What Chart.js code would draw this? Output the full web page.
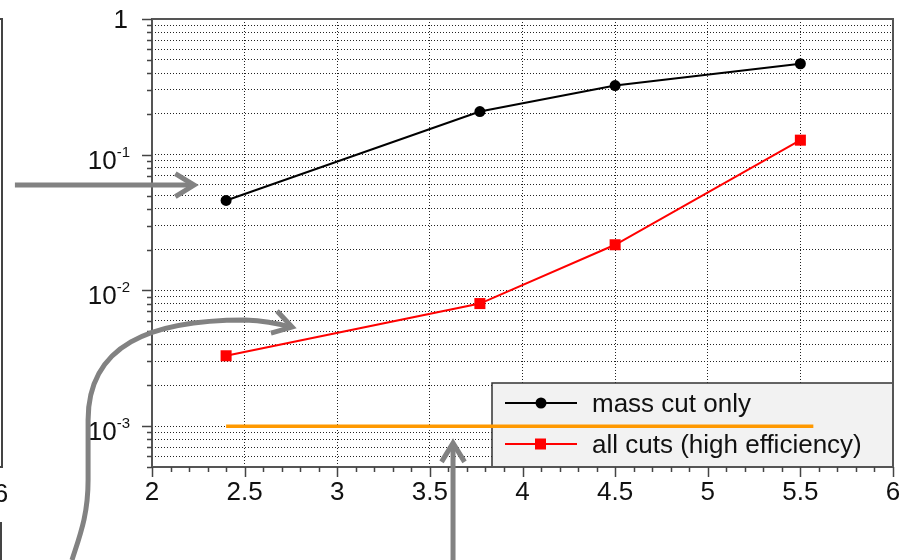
<!DOCTYPE html>
<html>
<head>
<meta charset="utf-8">
<script src="https://cdn.jsdelivr.net/npm/chart.js@4.4.0/dist/chart.umd.min.js"></script>
<style>
html, body { margin: 0; padding: 0; background: #fff; }
</style>
</head>
<body>
<canvas id="myChart" width="915" height="560"></canvas>
<script>
// values
var massX = [2.4, 3.77, 4.5, 5.5];
var massY = [0.046, 0.208, 0.323, 0.468];
var cutsX = [2.4, 3.77, 4.5, 5.5];
var cutsY = [0.0033, 0.0080, 0.0217, 0.128];
var limitX = [2.4, 5.57];
var limitY = [0.001, 0.001];

var seriesNames = ["mass cut only", "all cuts (high efficiency)"];

var xTickLabels = ["2", "2.5", "3", "3.5", "4", "4.5", "5", "5.5", "6"];
var yTickValues = [0.001, 0.01, 0.1, 1];
var yTickBase = ["10", "10", "10", "1"];
var yTickExp = ["-3", "-2", "-1", ""];

var FONT = "'Liberation Sans', Arial, Helvetica, sans-serif";

function toPoints(xs, ys) {
	return xs.map(function (x, i) { return { x: x, y: ys[i] }; });
}

// all grid lines of the log axis: 1..9 in each decade
function logGridValues(min, max) {
	var out = [];
	for (var e = -4; e <= 0; e++) {
		for (var s = 1; s <= 9; s++) {
			var v = parseFloat((s * Math.pow(10, e)).toPrecision(6));
			if (v >= min && v <= max) out.push(v);
		}
	}
	return out;
}

var decorPlugin = {
	id: "decor",
	beforeDatasetsDraw: function (chart) {
		// legend box (the orange line goes over it)
		var ctx = chart.ctx;
		var a = chart.chartArea;
		var lx = 492, ly = 383;
		ctx.save();
		ctx.fillStyle = "#f2f2f2";
		ctx.fillRect(lx, ly, a.right - lx, a.bottom - ly);
		ctx.strokeStyle = "#333";
		ctx.lineWidth = 1.5;
		ctx.strokeRect(lx, ly, a.right - lx, a.bottom - ly);

		var rows = [403, 444];
		var colors = ["#000", "#ff0000"];
		for (var i = 0; i < 2; i++) {
			ctx.strokeStyle = colors[i];
			ctx.lineWidth = 2;
			ctx.beginPath();
			ctx.moveTo(505, rows[i]);
			ctx.lineTo(577, rows[i]);
			ctx.stroke();
			ctx.fillStyle = colors[i];
			if (i === 0) {
				ctx.beginPath();
				ctx.arc(541, rows[i], 5.5, 0, Math.PI * 2);
				ctx.fill();
			} else {
				ctx.fillRect(535, rows[i] - 5.5, 11, 11);
			}
			ctx.fillStyle = "#111";
			ctx.font = "26px " + FONT;
			ctx.textAlign = "left";
			ctx.textBaseline = "alphabetic";
			ctx.fillText(seriesNames[i], 592, rows[i] + 9);
		}
		ctx.restore();
	},
	afterDraw: function (chart) {
		var ctx = chart.ctx;
		var a = chart.chartArea;
		var xs = chart.scales.x;
		var ys = chart.scales.y;
		ctx.save();

		// frame
		ctx.strokeStyle = "#555";
		ctx.lineWidth = 2;
		ctx.strokeRect(a.left, a.top, a.right - a.left, a.bottom - a.top);

		// tick marks
		ctx.lineWidth = 1.5;
		ctx.strokeStyle = "#444";
		ctx.beginPath();
		for (var i = 20; i <= 60; i++) {
			var px = Math.round(xs.getPixelForValue(i / 10)) + 0.5;
			var len = i % 5 === 0 ? 10 : 5;
			ctx.moveTo(px, a.bottom);
			ctx.lineTo(px, a.bottom + len);
		}
		logGridValues(5e-4, 1).forEach(function (v) {
			var py = Math.round(ys.getPixelForValue(v)) + 0.5;
			var len = yTickValues.indexOf(v) >= 0 ? 10 : 5;
			ctx.moveTo(a.left, py);
			ctx.lineTo(a.left - len, py);
		});
		ctx.stroke();

		// y labels with superscript exponents
		ctx.fillStyle = "#111";
		ctx.textBaseline = "alphabetic";
		yTickValues.forEach(function (v, k) {
			var py = ys.getPixelForValue(v);
			var right = 130;
			if (yTickExp[k]) {
				ctx.font = "15px " + FONT;
				ctx.textAlign = "right";
				ctx.fillText(yTickExp[k], right, py + 2);
				var w = ctx.measureText(yTickExp[k]).width;
				ctx.font = "26px " + FONT;
				ctx.fillText(yTickBase[k], right - w, py + 14);
			} else {
				ctx.font = "26px " + FONT;
				ctx.textAlign = "right";
				ctx.fillText(yTickBase[k], right - 2, py + 9);
			}
		});

		// neighbouring panel edge on the far left
		ctx.strokeStyle = "#444";
		ctx.lineWidth = 2;
		ctx.beginPath();
		ctx.moveTo(2, a.top);
		ctx.lineTo(2, a.bottom);
		ctx.moveTo(0, a.top);
		ctx.lineTo(3, a.top);
		ctx.moveTo(0, a.bottom);
		ctx.lineTo(3, a.bottom);
		ctx.moveTo(1, 522);
		ctx.lineTo(1, 560);
		ctx.stroke();
		ctx.font = "26px " + FONT;
		ctx.textAlign = "center";
		ctx.fillText("6", 1, 502);

		// grey annotation arrows, in data units
		function P(x, y) { return [xs.getPixelForValue(x), ys.getPixelForValue(y)]; }
		function head(tip, from) {
			var ang = Math.atan2(tip[1] - from[1], tip[0] - from[0]);
			var L = 22, spread = 0.55;
			ctx.beginPath();
			ctx.moveTo(tip[0] - L * Math.cos(ang - spread), tip[1] - L * Math.sin(ang - spread));
			ctx.lineTo(tip[0], tip[1]);
			ctx.lineTo(tip[0] - L * Math.cos(ang + spread), tip[1] - L * Math.sin(ang + spread));
			ctx.stroke();
		}
		ctx.strokeStyle = "#828282";
		ctx.lineWidth = 5;
		ctx.lineJoin = "miter";

		// arrow 1: horizontal towards the black curve
		var a1s = P(1.26, 0.0598), a1t = P(2.227, 0.0598);
		ctx.beginPath();
		ctx.moveTo(a1s[0], a1s[1]);
		ctx.lineTo(a1t[0] - 2, a1t[1]);
		ctx.stroke();
		head(a1t, a1s);

		// arrow 2: S-shaped from the bottom left
		var p0 = P(1.568, 1.03e-4), c1 = P(1.611, 1.57e-4), c2 = P(1.655, 2.21e-4), p1 = P(1.655, 4.01e-4);
		var p2 = P(1.655, 1.109e-3), c3 = P(1.655, 3.96e-3), c4 = P(1.989, 6.05e-3), p3 = P(2.502, 6.05e-3);
		var c5 = P(2.637, 5.95e-3), tip2 = P(2.756, 5.37e-3);
		ctx.beginPath();
		ctx.moveTo(p0[0], p0[1]);
		ctx.bezierCurveTo(c1[0], c1[1], c2[0], c2[1], p1[0], p1[1]);
		ctx.lineTo(p2[0], p2[1]);
		ctx.bezierCurveTo(c3[0], c3[1], c4[0], c4[1], p3[0], p3[1]);
		ctx.quadraticCurveTo(c5[0], c5[1], tip2[0] - 2, tip2[1]);
		ctx.stroke();
		head(tip2, c5);

		// arrow 3: vertical towards the orange line
		var a3s = P(3.625, 1.03e-4), a3t = P(3.625, 7.5e-4);
		ctx.beginPath();
		ctx.moveTo(a3s[0], a3s[1]);
		ctx.lineTo(a3t[0], a3t[1] + 2);
		ctx.stroke();
		head(a3t, a3s);

		ctx.restore();
	}
};

var ctx = document.getElementById("myChart").getContext("2d");

var graphData = {
	type: "line",
	data: {
		datasets: [
			{
				label: seriesNames[0],
				data: toPoints(massX, massY),
				borderColor: "#000",
				backgroundColor: "#000",
				borderWidth: 2,
				pointStyle: "circle",
				pointRadius: 5.5,
				pointBorderWidth: 0,
				tension: 0,
			},
			{
				label: seriesNames[1],
				data: toPoints(cutsX, cutsY),
				borderColor: "#ff0000",
				backgroundColor: "#ff0000",
				borderWidth: 2,
				pointStyle: "rect",
				pointRadius: 7.8,
				pointBorderWidth: 0,
				tension: 0,
			},
			{
				label: "limit",
				data: toPoints(limitX, limitY),
				borderColor: "#ff9900",
				borderWidth: 3.5,
				pointRadius: 0,
				tension: 0,
			},
		],
	},
	options: {
		responsive: false,
		animation: false,
		devicePixelRatio: 1,
		layout: { padding: { left: 0, top: 19, right: 22, bottom: 0 } },
		plugins: { legend: { display: false }, tooltip: { enabled: false } },
		scales: {
			x: {
				type: "linear",
				min: 2,
				max: 6,
				ticks: {
					stepSize: 0.5,
					color: "#111",
					padding: 10,
					maxRotation: 0,
					font: { family: FONT, size: 26 },
					callback: function (value, index) { return xTickLabels[index]; },
				},
				grid: { color: "#222", lineWidth: 1, drawTicks: false },
				border: { display: false, dash: [1, 2] },
				afterFit: function (s) { s.height = 93; },
			},
			y: {
				type: "logarithmic",
				min: 5e-4,
				max: 1,
				ticks: { display: false },
				grid: { color: "#222", lineWidth: 1, drawTicks: false },
				border: { display: false, dash: [1, 2] },
				afterBuildTicks: function (s) {
					s.ticks = logGridValues(5e-4, 1).map(function (v) {
						return { value: v, major: yTickValues.indexOf(v) >= 0 };
					});
				},
				afterFit: function (s) { s.width = 152; },
			},
		},
	},
	plugins: [decorPlugin],
};

var myChart = new Chart(ctx, graphData);
</script>
</body>
</html>
